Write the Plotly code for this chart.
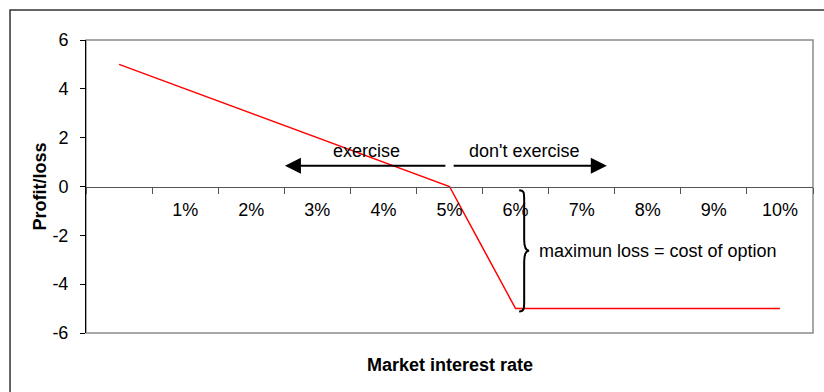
import plotly.graph_objects as go

# Payoff of an interest-rate option (strike 5%, premium 5)
rates = ["0%", "1%", "2%", "3%", "4%", "5%", "6%", "7%", "8%", "9%", "10%"]
rate_labels = ["", "1%", "2%", "3%", "4%", "5%", "6%", "7%", "8%", "9%", "10%"]
profit = [5, 4, 3, 2, 1, 0, -5, -5, -5, -5, -5]
y_ticks = [-6, -4, -2, 0, 2, 4, 6]
y_tick_labels = [str(v) for v in y_ticks]

FONT = "Arial, 'Liberation Sans', sans-serif"
FS = 18
strike_idx = 5
max_loss = min(profit)

fig = go.Figure()
fig.add_trace(go.Scatter(
    x=rates, y=profit, mode="lines",
    line=dict(color="#ff0000", width=1.5),
    showlegend=False, hoverinfo="skip",
))

# Exercise / don't exercise arrows either side of the strike
arrow_y = 0.85
fig.add_annotation(x=strike_idx - 2.49, y=arrow_y, ax=strike_idx - 0.04, ay=arrow_y,
                   xref="x", yref="y", axref="x", ayref="y", text="",
                   showarrow=True, arrowhead=2, arrowsize=1.6, arrowwidth=2,
                   arrowcolor="black", standoff=0, startstandoff=0)
fig.add_annotation(x=strike_idx + 2.38, y=arrow_y, ax=strike_idx + 0.04, ay=arrow_y,
                   xref="x", yref="y", axref="x", ayref="y", text="",
                   showarrow=True, arrowhead=2, arrowsize=1.6, arrowwidth=2,
                   arrowcolor="black", standoff=0, startstandoff=0)
fig.add_annotation(x=strike_idx - 1.26, y=1.45, xref="x", yref="y", text="exercise",
                   showarrow=False, font=dict(family=FONT, size=FS, color="black"))
fig.add_annotation(x=strike_idx + 1.14, y=1.45, xref="x", yref="y", text="don't exercise",
                   showarrow=False, font=dict(family=FONT, size=FS, color="black"))

# Curly brace spanning the maximum loss
top = -0.15
bot = max_loss - 0.12
mid = (top + bot) / 2
c = 0.45
brace = (
    f"M -5,{top} C 0,{top} 0,{top - 0.1} 0,{top - c} "
    f"L 0,{mid + c} C 0,{mid + 0.1} 2,{mid} 5,{mid} "
    f"C 2,{mid} 0,{mid - 0.1} 0,{mid - c} "
    f"L 0,{bot + c} C 0,{bot + 0.1} 0,{bot} -5,{bot}"
)
fig.add_shape(type="path", path=brace, xref="x", yref="y",
              xsizemode="pixel", xanchor=strike_idx + 1.13,
              line=dict(color="black", width=2))
fig.add_annotation(x=strike_idx + 1.33, y=mid, xref="x", yref="y",
                   text="maximun loss = cost of option", xanchor="left",
                   showarrow=False, font=dict(family=FONT, size=FS, color="black"))

# Plot-area frame
fig.add_shape(type="rect", xref="paper", yref="paper", x0=0, y0=0, x1=1, y1=1,
              line=dict(color="#8c8c8c", width=1.5), layer="below")
# Outer chart border: only its left and top edges fall inside the page
fig.add_shape(type="path", xref="paper", yref="paper",
              path="M -0.1045,-0.5 L -0.1045,1.1024 L 1.3,1.1024",
              line=dict(color="#333333", width=1.5), layer="below")

# Axis titles
fig.add_annotation(x=0.5, y=-0.109, xref="paper", yref="paper", yanchor="middle",
                   text="<b>Market interest rate</b>", showarrow=False,
                   font=dict(family=FONT, size=FS, color="black"))
fig.add_annotation(x=-0.0646, y=0.5, xref="paper", yref="paper",
                   xanchor="center", yanchor="middle",
                   text="<b>Profit/loss</b>", textangle=-90, showarrow=False,
                   font=dict(family=FONT, size=FS, color="black"))

fig.update_layout(
    width=824, height=392,
    margin=dict(l=86, r=11, t=40, b=59),
    paper_bgcolor="white", plot_bgcolor="white",
    font=dict(family=FONT, size=FS, color="black"),
    xaxis=dict(
        type="category", categoryorder="array", categoryarray=rates,
        tickmode="array", tickvals=rates, ticktext=rate_labels,
        range=[-0.5, len(rates) - 0.5],
        anchor="free", position=0.5,
        showline=True, linecolor="#555555", linewidth=1,
        ticks="outside", ticklen=6, tickcolor="#555555", tickson="boundaries",
        ticklabelstandoff=7,
        showgrid=False, zeroline=False,
    ),
    yaxis=dict(
        range=[-6, 6], tickmode="array", tickvals=y_ticks, ticktext=y_tick_labels,
        showline=True, linecolor="black", linewidth=1,
        ticks="outside", ticklen=5, tickcolor="black",
        ticklabelstandoff=8,
        showgrid=False, zeroline=False,
    ),
)

fig.write_html("out.html")
